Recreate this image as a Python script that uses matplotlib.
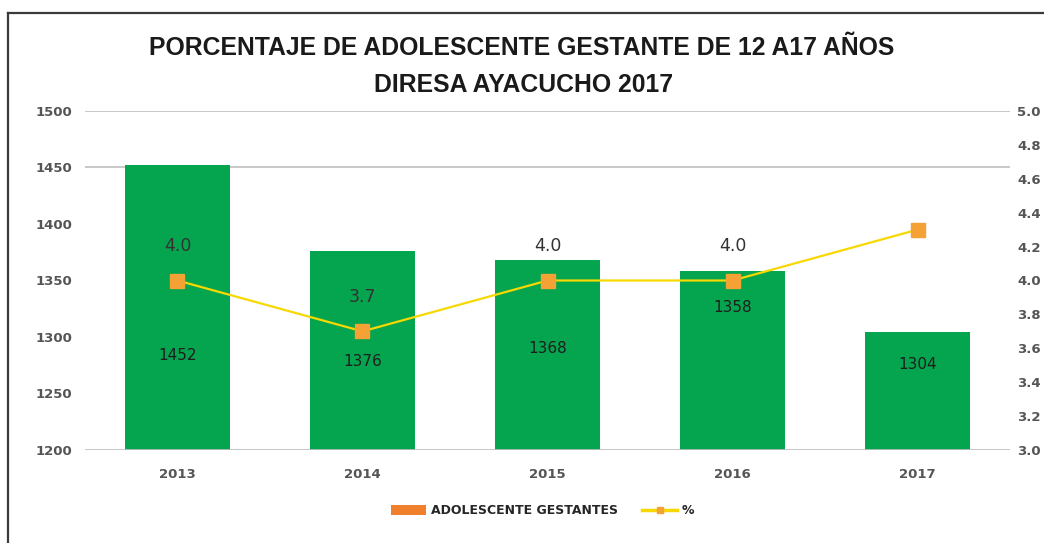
import matplotlib
matplotlib.use("Agg")
import matplotlib.pyplot as plt
from matplotlib.patches import Patch
from matplotlib.lines import Line2D

# Data
years = ["2013", "2014", "2015", "2016", "2017"]
gestantes = [1452, 1376, 1368, 1358, 1304]
porcentaje = [4.0, 3.7, 4.0, 4.0, 4.3]
pct_labels = ["4.0", "3.7", "4.0", "4.0", ""]
left_ticks = [1200, 1250, 1300, 1350, 1400, 1450, 1500]
right_ticks = [3.0, 3.2, 3.4, 3.6, 3.8, 4.0, 4.2, 4.4, 4.6, 4.8, 5.0]

# Layout: vertical position (left-axis units) of the count labels inside bars
count_label_y = [1284, 1278, 1290, 1326, 1276]

BAR_GREEN = "#05A44F"
LINE_YELLOW = "#F7D800"
MARKER_ORANGE = "#F4A236"
TICK_GRAY = "#555555"

plt.rcParams["font.family"] = ["DejaVu Sans"]

fig = plt.figure(figsize=(10.44, 5.43), dpi=100)
fig.patch.set_facecolor("white")

ax = fig.add_axes([85 / 1044, 93 / 543, (1010 - 85) / 1044, (450 - 111) / 543])
x = list(range(len(years)))

ax.bar(x, gestantes, width=0.57, color=BAR_GREEN, zorder=2)
ax.set_ylim(1200, 1500)
ax.set_xlim(-0.5, len(years) - 0.5)
ax.set_yticks(left_ticks)
ax.set_xticks(x)
ax.set_xticklabels(years)
for s in ax.spines.values():
    s.set_visible(False)
ax.tick_params(axis="both", length=0, colors=TICK_GRAY, labelsize=9.5)
ax.tick_params(axis="y", pad=9)
ax.tick_params(axis="x", pad=13)
for lbl in ax.get_yticklabels() + ax.get_xticklabels():
    lbl.set_fontweight("bold")

# Grid lines at the top of the scale and the baseline
for g in (1500, 1450):
    ax.axhline(g, color="#BFBFBF", lw=1.2, zorder=1)
ax.axhline(1200, color="#BFBFBF", lw=1.2, zorder=3)

for xi, v, ly in zip(x, gestantes, count_label_y):
    ax.text(xi, ly, str(v), ha="center", va="center", fontsize=11,
            color="#1E1E1E", zorder=4)

ax2 = ax.twinx()
ax2.set_ylim(3.0, 5.0)
ax2.set_yticks(right_ticks)
ax2.set_yticklabels([f"{t:.1f}" for t in right_ticks])
for s in ax2.spines.values():
    s.set_visible(False)
ax2.tick_params(axis="y", length=0, colors=TICK_GRAY, labelsize=9.5, pad=5)
for lbl in ax2.get_yticklabels():
    lbl.set_fontweight("bold")

ax2.plot(x, porcentaje, color=LINE_YELLOW, lw=1.6, marker="s", markersize=9.5,
         markerfacecolor=MARKER_ORANGE, markeredgecolor=MARKER_ORANGE, zorder=5)
for xi, v, t in zip(x, porcentaje, pct_labels):
    if t:
        ax2.annotate(t, (xi, v), xytext=(0, 25), textcoords="offset points",
                     ha="center", va="center", fontsize=12.5, color="#333333")

# Title
title_font = ["Liberation Sans", "DejaVu Sans"]
fig.text(522 / 1044, 1 - 48 / 543, "PORCENTAJE DE ADOLESCENTE GESTANTE DE 12 A17 AÑOS",
         ha="center", va="center", fontsize=17.8, fontweight="bold", color="#1A1A1A",
         family=title_font)
fig.text(524 / 1044, 1 - 85 / 543, "DIRESA AYACUCHO 2017",
         ha="center", va="center", fontsize=17.8, fontweight="bold", color="#1A1A1A",
         family=title_font)

# Legend
handles = [
    Patch(facecolor="#F0802C", edgecolor="none"),
    Line2D([0], [0], color=LINE_YELLOW, lw=2.5, marker="s", markersize=5,
           markerfacecolor=MARKER_ORANGE, markeredgecolor=MARKER_ORANGE),
]
leg = fig.legend(handles, ["ADOLESCENTE GESTANTES", "%"], loc="center",
                 bbox_to_anchor=(543 / 1044, 1 - 511 / 543), ncol=2, frameon=False,
                 prop={"size": 9, "weight": "bold"}, handlelength=2.8,
                 handleheight=0.8, columnspacing=1.9, handletextpad=0.4)
for t in leg.get_texts():
    t.set_color("#262626")

# Outer frame
frame_color = "#3A3A3A"
fig.add_artist(Line2D([8 / 1044, 8 / 1044], [0, 1 - 13 / 543], color=frame_color,
                      lw=1.6, transform=fig.transFigure))
fig.add_artist(Line2D([8 / 1044, 1], [1 - 13 / 543, 1 - 13 / 543], color=frame_color,
                      lw=1.6, transform=fig.transFigure))

fig.savefig("out.png", dpi=100, facecolor="white")
